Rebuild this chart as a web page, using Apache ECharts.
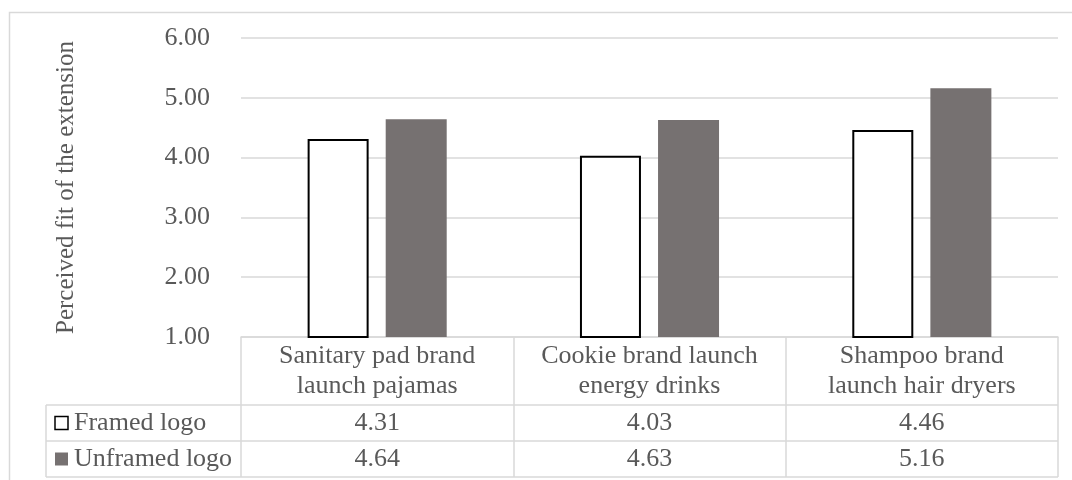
<!DOCTYPE html>
<html>
<head>
<meta charset="utf-8">
<script src="https://cdn.jsdelivr.net/npm/echarts@6/dist/echarts.min.js"></script>
<style>
  html, body { margin: 0; padding: 0; background: #fff; }
  #main { width: 1072px; height: 480px; }
</style>
</head>
<body>
<div id="main"></div>
<script>
// data
var categories = [
  'Sanitary pad brand\nlaunch pajamas',
  'Cookie brand launch\nenergy drinks',
  'Shampoo brand\nlaunch hair dryers'
];
var seriesNames = ['Framed logo', 'Unframed logo'];
var framedValues = [4.31, 4.03, 4.46];
var unframedValues = [4.64, 4.63, 5.16];
var yTicks = [1, 2, 3, 4, 5, 6];

var textColor = '#595959';
var lineColor = '#d9d9d9';
var font = '"Times New Roman", "Liberation Serif", serif';
var headH = 68;   // category label row
var rowH = 36;    // data rows

var myChart = echarts.init(document.getElementById('main'));

var option = {
  animation: false,
  backgroundColor: '#fff',
  textStyle: { fontFamily: font },
  grid: { left: 241, right: 14, top: 38, bottom: 143 },
  xAxis: {
    type: 'category',
    data: categories,
    axisLine: { show: true, lineStyle: { color: lineColor, width: 1.5 } },
    axisTick: { show: true, length: headH + rowH * 2, interval: 0, lineStyle: { color: lineColor, width: 1.5 } },
    axisLabel: {
      interval: 0,
      margin: 4,
      fontSize: 26,
      lineHeight: 30,
      color: textColor,
      fontFamily: font
    }
  },
  yAxis: {
    type: 'value',
    min: yTicks[0],
    max: yTicks[yTicks.length - 1],
    interval: 1,
    name: 'Perceived fit of the extension',
    nameLocation: 'middle',
    nameRotate: 90,
    nameGap: 162,
    nameTextStyle: { fontSize: 25, color: textColor, fontFamily: font },
    axisLine: { show: false },
    axisTick: { show: false },
    axisLabel: {
      margin: 31,
      fontSize: 26,
      color: textColor,
      fontFamily: font,
      formatter: function (v) { return v.toFixed(2); }
    },
    splitLine: { lineStyle: { color: lineColor, width: 1.5 } }
  },
  series: [
    {
      name: seriesNames[0],
      type: 'bar',
      data: framedValues,
      barWidth: 61,
      barGap: '28%',
      itemStyle: { color: '#ffffff', borderColor: '#000000', borderWidth: 2 }
    },
    {
      name: seriesNames[1],
      type: 'bar',
      data: unframedValues,
      barWidth: 61,
      barGap: '28%',
      itemStyle: { color: '#767171' }
    }
  ]
};

myChart.setOption(option);

// data table under the axis, placed from the axis' own scale
var centers = categories.map(function (c, i) {
  return myChart.convertToPixel({ xAxisIndex: 0 }, i);
});
var band = centers[1] - centers[0];
var tableLeft = 46;
var tableRight = centers[centers.length - 1] + band / 2;
var axisY = myChart.convertToPixel({ yAxisIndex: 0 }, yTicks[0]);
var row1Top = axisY + headH;
var rows = [framedValues, unframedValues];

var g = [];
// outer chart border
g.push({
  type: 'rect',
  shape: { x: 9.5, y: 12.5, width: 1100, height: 500 },
  style: { fill: 'none', stroke: lineColor, lineWidth: 1.5 }
});
// horizontal table lines
for (var r = 0; r <= rows.length; r++) {
  var y = row1Top + r * rowH;
  g.push({
    type: 'line',
    shape: { x1: tableLeft, y1: y, x2: tableRight, y2: y },
    style: { stroke: lineColor, lineWidth: 1.5 }
  });
}
// left edge of the series-name column
g.push({
  type: 'line',
  shape: { x1: tableLeft, y1: row1Top, x2: tableLeft, y2: row1Top + rowH * rows.length },
  style: { stroke: lineColor, lineWidth: 1.5 }
});

rows.forEach(function (vals, r) {
  var cy = row1Top + r * rowH + rowH / 2;
  // legend key
  g.push({
    type: 'rect',
    shape: { x: 55, y: cy - 6.5, width: 13, height: 13 },
    style: r === 0
      ? { fill: '#fff', stroke: '#000', lineWidth: 1.5 }
      : { fill: '#767171' }
  });
  g.push({
    type: 'text',
    x: 74, y: cy,
    style: {
      text: seriesNames[r], fill: textColor, font: '26px ' + font,
      textAlign: 'left', textVerticalAlign: 'middle'
    }
  });
  vals.forEach(function (v, i) {
    g.push({
      type: 'text',
      x: centers[i], y: cy,
      style: {
        text: v.toFixed(2), fill: textColor, font: '26px ' + font,
        textAlign: 'center', textVerticalAlign: 'middle'
      }
    });
  });
});

myChart.setOption({ graphic: g });
</script>
</body>
</html>
